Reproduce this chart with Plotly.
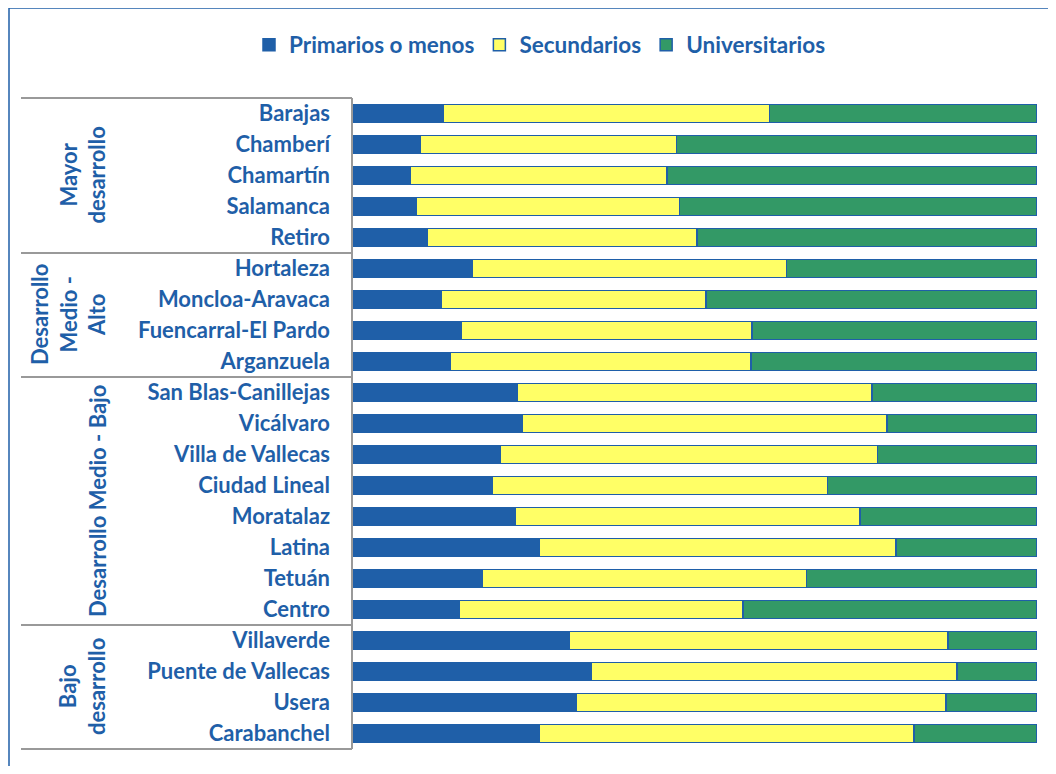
import plotly.graph_objects as go

districts = ["Barajas", "Chamberí", "Chamartín", "Salamanca", "Retiro",
             "Hortaleza", "Moncloa-Aravaca", "Fuencarral-El Pardo", "Arganzuela",
             "San Blas-Canillejas", "Vicálvaro", "Villa de Vallecas", "Ciudad Lineal",
             "Moratalaz", "Latina", "Tetuán", "Centro",
             "Villaverde", "Puente de Vallecas", "Usera", "Carabanchel"]
primarios = [13.2, 9.9, 8.3, 9.2, 10.8, 17.5, 12.9, 15.8, 14.2, 24.0, 24.7, 21.6, 20.3,
             23.7, 27.2, 18.9, 15.5, 31.6, 34.8, 32.6, 27.3]
secundarios = [47.7, 37.4, 37.6, 38.5, 39.5, 45.9, 38.7, 42.5, 44.0, 51.9, 53.4, 55.1, 49.1,
               50.4, 52.2, 47.4, 41.5, 55.4, 53.5, 54.1, 54.7]
universitarios = [39.1, 52.7, 54.1, 52.3, 49.7, 36.6, 48.4, 41.7, 41.8, 24.1, 21.9, 23.3, 30.6,
                  25.9, 20.6, 33.7, 43.0, 13.0, 11.7, 13.3, 18.0]
groups = ["Mayor<br>desarrollo", "Desarrollo<br>Medio -<br>Alto", "Desarrollo Medio - Bajo", "Bajo<br>desarrollo"]
group_sizes = [5, 4, 8, 4]
series_names = ["Primarios o menos", "Secundarios", "Universitarios"]
colors = ["#1F5FA8", "#FFFF66", "#339966"]

OFF = 8  # page body margin
W, H = 1056 - 2 * OFF, 774 - 2 * OFF
# plot area in page pixel coordinates
L, R, T, B = 353, 1037, 98, 749
PW, PH = R - L, B - T
BLUE = "#1F5FA8"
FONT = "Lato"
FS = 22

def px(x):
    return (x - L) / PW

def py(y):
    return (B - y) / PH

fig = go.Figure()
for name, vals, col in zip(series_names, [primarios, secundarios, universitarios], colors):
    fig.add_trace(go.Bar(
        y=districts, x=vals, name=name, orientation="h",
        marker=dict(color=col, line=dict(color=BLUE, width=1.5)),
        width=0.58,
    ))

shapes = []
shapes.append(dict(type="rect", xref="paper", yref="paper",
                   x0=px(9), x1=px(1080), y0=py(8), y1=py(800),
                   line=dict(color=BLUE, width=1.5), fillcolor="rgba(0,0,0,0)", layer="below"))
shapes.append(dict(type="line", xref="paper", yref="paper", x0=px(352), x1=px(352),
                   y0=py(T), y1=py(B), line=dict(color="#999999", width=2)))
row_h = PH / len(districts)
bounds = [0]
for s in group_sizes:
    bounds.append(bounds[-1] + s)
for b in bounds:
    yy = T + b * row_h
    shapes.append(dict(type="line", xref="paper", yref="paper", x0=px(21), x1=px(352),
                       y0=py(yy), y1=py(yy), line=dict(color="#999999", width=2)))

annotations = []
centers_x = [82, 68, 97, 82]
for i, (g, cx) in enumerate(zip(groups, centers_x)):
    y_mid = T + (bounds[i] + bounds[i + 1]) / 2 * row_h
    annotations.append(dict(text=g, xref="paper", yref="paper", x=px(cx), y=py(y_mid),
                            xanchor="center", yanchor="middle", textangle=-90, showarrow=False,
                            align="center",
                            font=dict(family=FONT, size=FS, color=BLUE, weight="bold")))

fig.update_layout(
    width=W, height=H,
    margin=dict(l=L - OFF, r=W - (R - OFF), t=T - OFF, b=H - (B - OFF), pad=0),
    barmode="stack",
    plot_bgcolor="white", paper_bgcolor="white",
    showlegend=True,
    legend=dict(orientation="h", traceorder="normal", xref="container", yref="container",
                x=(540 - OFF) / W, y=1 - (45 - OFF) / H,
                xanchor="center", yanchor="middle",
                font=dict(family=FONT, size=22.5, color=BLUE, weight="bold"),
                itemwidth=30, tracegroupgap=0),
    xaxis=dict(range=[0, 100], showgrid=False, showticklabels=False, zeroline=False,
               showline=False, ticks=""),
    yaxis=dict(categoryorder="array", categoryarray=districts, autorange="reversed",
               showgrid=False, showline=False, ticks="", ticklabelstandoff=22,
               tickfont=dict(family=FONT, size=FS, color=BLUE, weight="bold")),
    shapes=shapes, annotations=annotations,
)
fig.write_html("out.html")
